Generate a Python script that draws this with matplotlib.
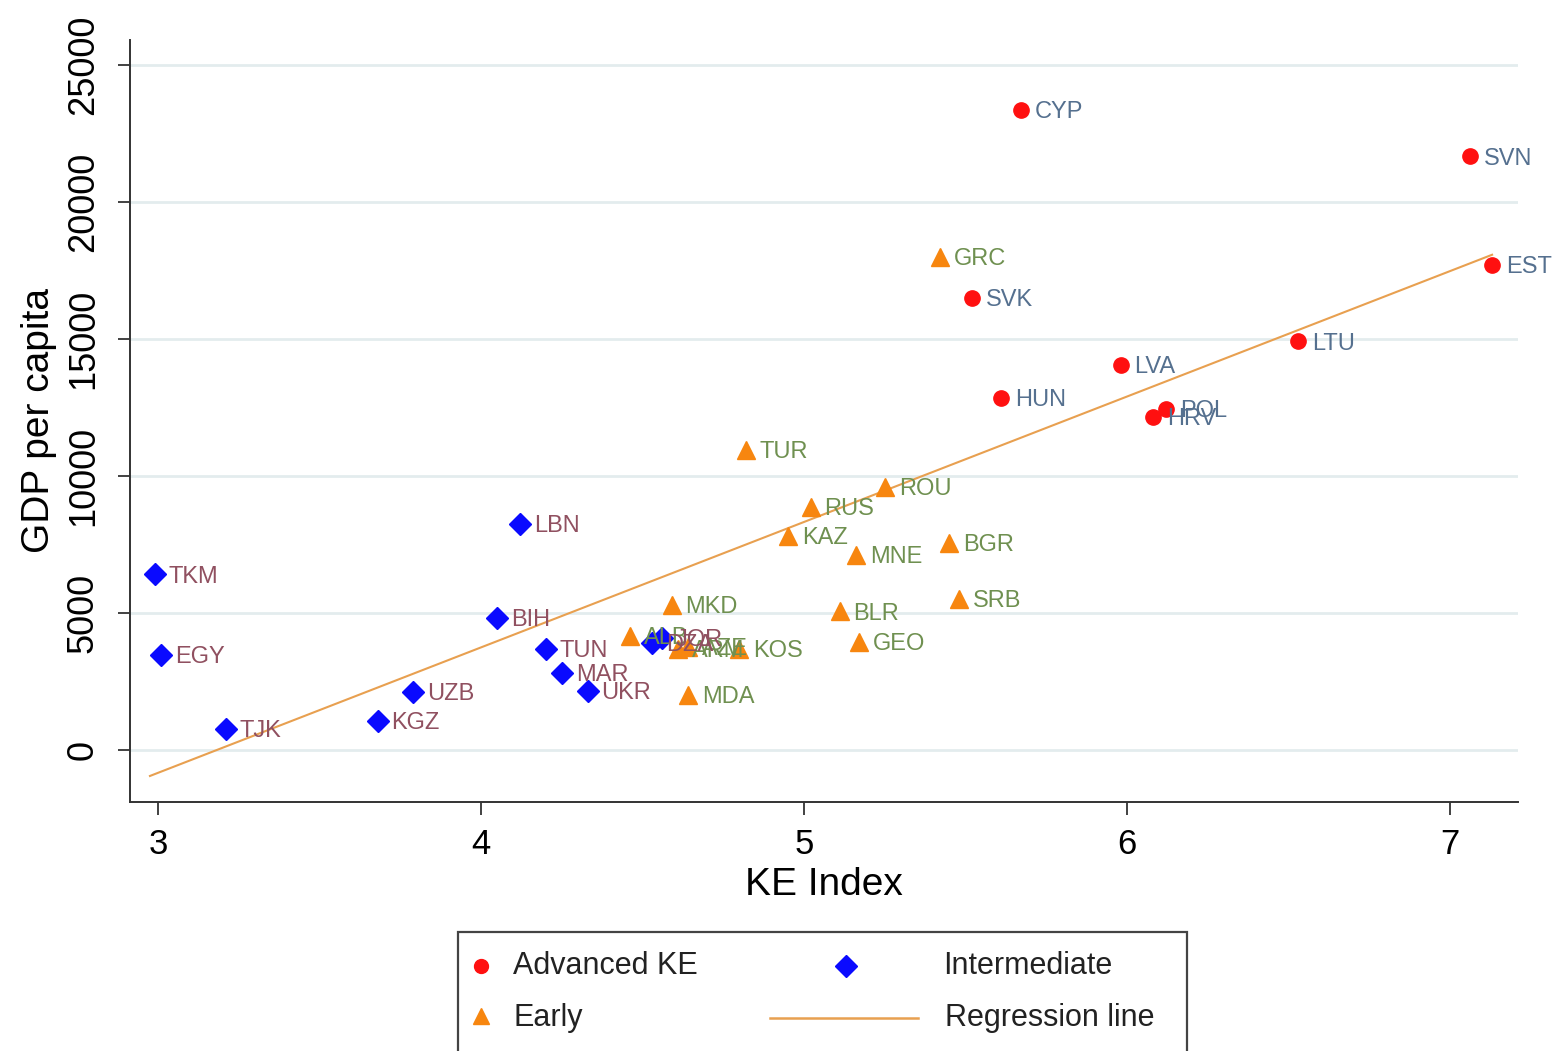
import matplotlib
matplotlib.use("Agg")
import matplotlib.pyplot as plt
from matplotlib.lines import Line2D
from matplotlib.patches import Rectangle
import numpy as np

plt.rcParams['font.family'] = ['Liberation Sans', 'DejaVu Sans']

# ---- data ----
adv_codes = ["CYP", "SVN", "EST", "SVK", "LTU", "LVA", "HUN", "POL", "HRV"]
adv_ke = [5.67, 7.06, 7.13, 5.52, 6.53, 5.98, 5.61, 6.12, 6.08]
adv_gdp = [23350, 21650, 17700, 16500, 14900, 14050, 12850, 12450, 12150]

early_codes = ["GRC", "TUR", "ROU", "RUS", "KAZ", "MNE", "BGR", "MKD", "SRB",
               "BLR", "GEO", "MDA", "ALB", "ARM", "AZE", "KOS"]
early_ke = [5.42, 4.82, 5.25, 5.02, 4.95, 5.16, 5.45, 4.59, 5.48,
            5.11, 5.17, 4.64, 4.46, 4.61, 4.64, 4.80]
early_gdp = [18000, 10950, 9600, 8850, 7800, 7100, 7550, 5300, 5500,
             5050, 3950, 2000, 4150, 3700, 3750, 3700]

inter_codes = ["TKM", "EGY", "TJK", "KGZ", "UZB", "BIH", "LBN", "TUN", "MAR",
               "UKR", "DZA", "JOR"]
inter_ke = [2.99, 3.01, 3.21, 3.68, 3.79, 4.05, 4.12, 4.20, 4.25,
            4.33, 4.53, 4.56]
inter_gdp = [6400, 3450, 750, 1050, 2100, 4800, 8250, 3700, 2800,
             2150, 3900, 4100]

reg_slope = 4576.0
reg_intercept = -14563.0

x_ticks = [3, 4, 5, 6, 7]
y_ticks = [0, 5000, 10000, 15000, 20000, 25000]

# ---- style ----
c_adv, c_early, c_inter = "#ff1010", "#f7860f", "#0a0aff"
t_adv, t_early, t_inter = "#55708f", "#6f9050", "#905060"
c_reg = "#e8a050"

fig = plt.figure(figsize=(15.58, 10.51), dpi=100)
ax = fig.add_axes([0.0834, 0.2369, 0.8909, 0.7251])

ax.set_xlim(2.913, 7.21)
ax.set_ylim(-1900, 25900)

for y in y_ticks:
    ax.axhline(y, color="#e3ecee", lw=2.0, zorder=0)

# regression line over data range
all_ke = np.array(adv_ke + early_ke + inter_ke)
xr = np.array([all_ke.min() - 0.015, all_ke.max()])
ax.plot(xr, reg_intercept + reg_slope * xr, color=c_reg, lw=1.5, zorder=2)

ax.plot(adv_ke, adv_gdp, 'o', color=c_adv, ms=11, mec=c_adv, ls='none', zorder=3)
ax.plot(early_ke, early_gdp, '^', color=c_early, ms=13, mec=c_early, ls='none', zorder=3)
ax.plot(inter_ke, inter_gdp, 'D', color=c_inter, ms=11, mec=c_inter, ls='none', zorder=3)

def label(codes, xs, ys, col):
    for c, x, y in zip(codes, xs, ys):
        ax.annotate(c, (x, y), xytext=(10, -1.5), textcoords='offset points',
                    va='center', ha='left', fontsize=17, color=col, zorder=4)

label(adv_codes, adv_ke, adv_gdp, t_adv)
label(early_codes, early_ke, early_gdp, t_early)
label(inter_codes, inter_ke, inter_gdp, t_inter)

ax.set_xticks(x_ticks)
ax.set_yticks(y_ticks)
ax.tick_params(axis='x', labelsize=25, length=9, width=1.3, pad=10, color="#333333")
ax.tick_params(axis='y', labelsize=26, length=9, width=1.3, pad=12, color="#333333")
for lab in ax.get_yticklabels():
    lab.set_rotation(90)
    lab.set_va('center')

for s in ("top", "right"):
    ax.spines[s].set_visible(False)
for s in ("left", "bottom"):
    ax.spines[s].set_color("#333333")
    ax.spines[s].set_linewidth(1.4)

ax.set_xlabel("KE Index", fontsize=28, labelpad=4)
ax.set_ylabel("GDP per capita", fontsize=28, labelpad=6)

# ---- legend (drawn manually to match layout) ----
fig.patches.append(Rectangle((0.294, -0.01), 0.468, 0.1232, transform=fig.transFigure,
                             fill=False, edgecolor="#444444", lw=1.6))
r1, r2 = 0.0809, 0.0314
fig.lines.append(Line2D([0.3087], [r1], marker='o', color=c_adv, ms=10, ls='none',
                        transform=fig.transFigure))
fig.lines.append(Line2D([0.3087], [r2 + 0.002], marker='^', color=c_early, ms=12, ls='none',
                        transform=fig.transFigure))
fig.lines.append(Line2D([0.543], [r1], marker='D', color=c_inter, ms=11, ls='none',
                        transform=fig.transFigure))
fig.lines.append(Line2D([0.4942, 0.5892], [r2, r2], color=c_reg, lw=1.8,
                        transform=fig.transFigure))
fig.text(0.3293, r1, "Advanced KE", fontsize=22, va='center', ha='left', color="#222222")
fig.text(0.3293, r2, "Early", fontsize=22, va='center', ha='left', color="#222222")
fig.text(0.6053, r1, "Intermediate", fontsize=22, va='center', ha='left', color="#222222")
fig.text(0.6066, r2, "Regression line", fontsize=22, va='center', ha='left', color="#222222")

fig.savefig("out.png", dpi=100)
